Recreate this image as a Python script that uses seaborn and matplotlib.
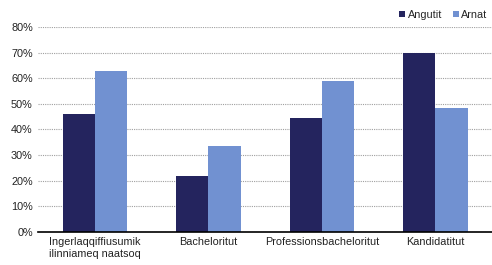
import matplotlib
matplotlib.use("Agg")
import matplotlib.pyplot as plt
import seaborn as sns
import pandas as pd
from matplotlib.ticker import PercentFormatter

categories = ["Ingerlaqqiffiusumik\nilinniameq naatsoq", "Bacheloritut",
              "Professionsbacheloritut", "Kandidatitut"]
angutit = [46, 22, 44.5, 70]
arnat = [63, 33.5, 59, 48.5]
series = ["Angutit", "Arnat"]
colors = ["#24245e", "#7191d1"]

df = pd.DataFrame({
    "cat": categories * 2,
    "val": angutit + arnat,
    "sex": [series[0]] * 4 + [series[1]] * 4,
})

sns.set_theme(style="white")
plt.rcParams["font.family"] = ["Liberation Sans", "DejaVu Sans"]

fig = plt.figure(figsize=(4.92, 2.65), dpi=100)
ax = fig.add_axes([0.078, 0.125, 0.922, 0.773])
sns.barplot(data=df, x="cat", y="val", hue="sex", palette=colors,
            width=0.57, saturation=1, ax=ax, legend=True, linewidth=0,
            edgecolor="none")

ax.set_ylim(0, 80)
ax.set_yticks(range(0, 81, 10))
ax.yaxis.set_major_formatter(PercentFormatter(decimals=0))
ax.grid(axis="y", color="#a0a0a0", linestyle=(0, (1, 1)), linewidth=0.8)
ax.set_axisbelow(True)
for s in ["top", "right", "left"]:
    ax.spines[s].set_visible(False)
ax.spines["bottom"].set_color("black")
ax.spines["bottom"].set_linewidth(1.2)
ax.set_xlabel("")
ax.set_ylabel("")
ax.tick_params(axis="both", labelsize=7.8, colors="#222222", length=0, pad=4)
ax.set_xticks(range(len(categories)))
ax.set_xticklabels(categories, multialignment="center")
ax.set_xlim(-0.5, 3.5)

leg = ax.legend(loc="upper right", bbox_to_anchor=(1.0, 1.105), ncol=2, frameon=False,
                fontsize=7.8, handlelength=0.6, handleheight=0.6, handletextpad=0.2,
                columnspacing=1.0, borderaxespad=0)

fig.savefig("out.png", dpi=100)
